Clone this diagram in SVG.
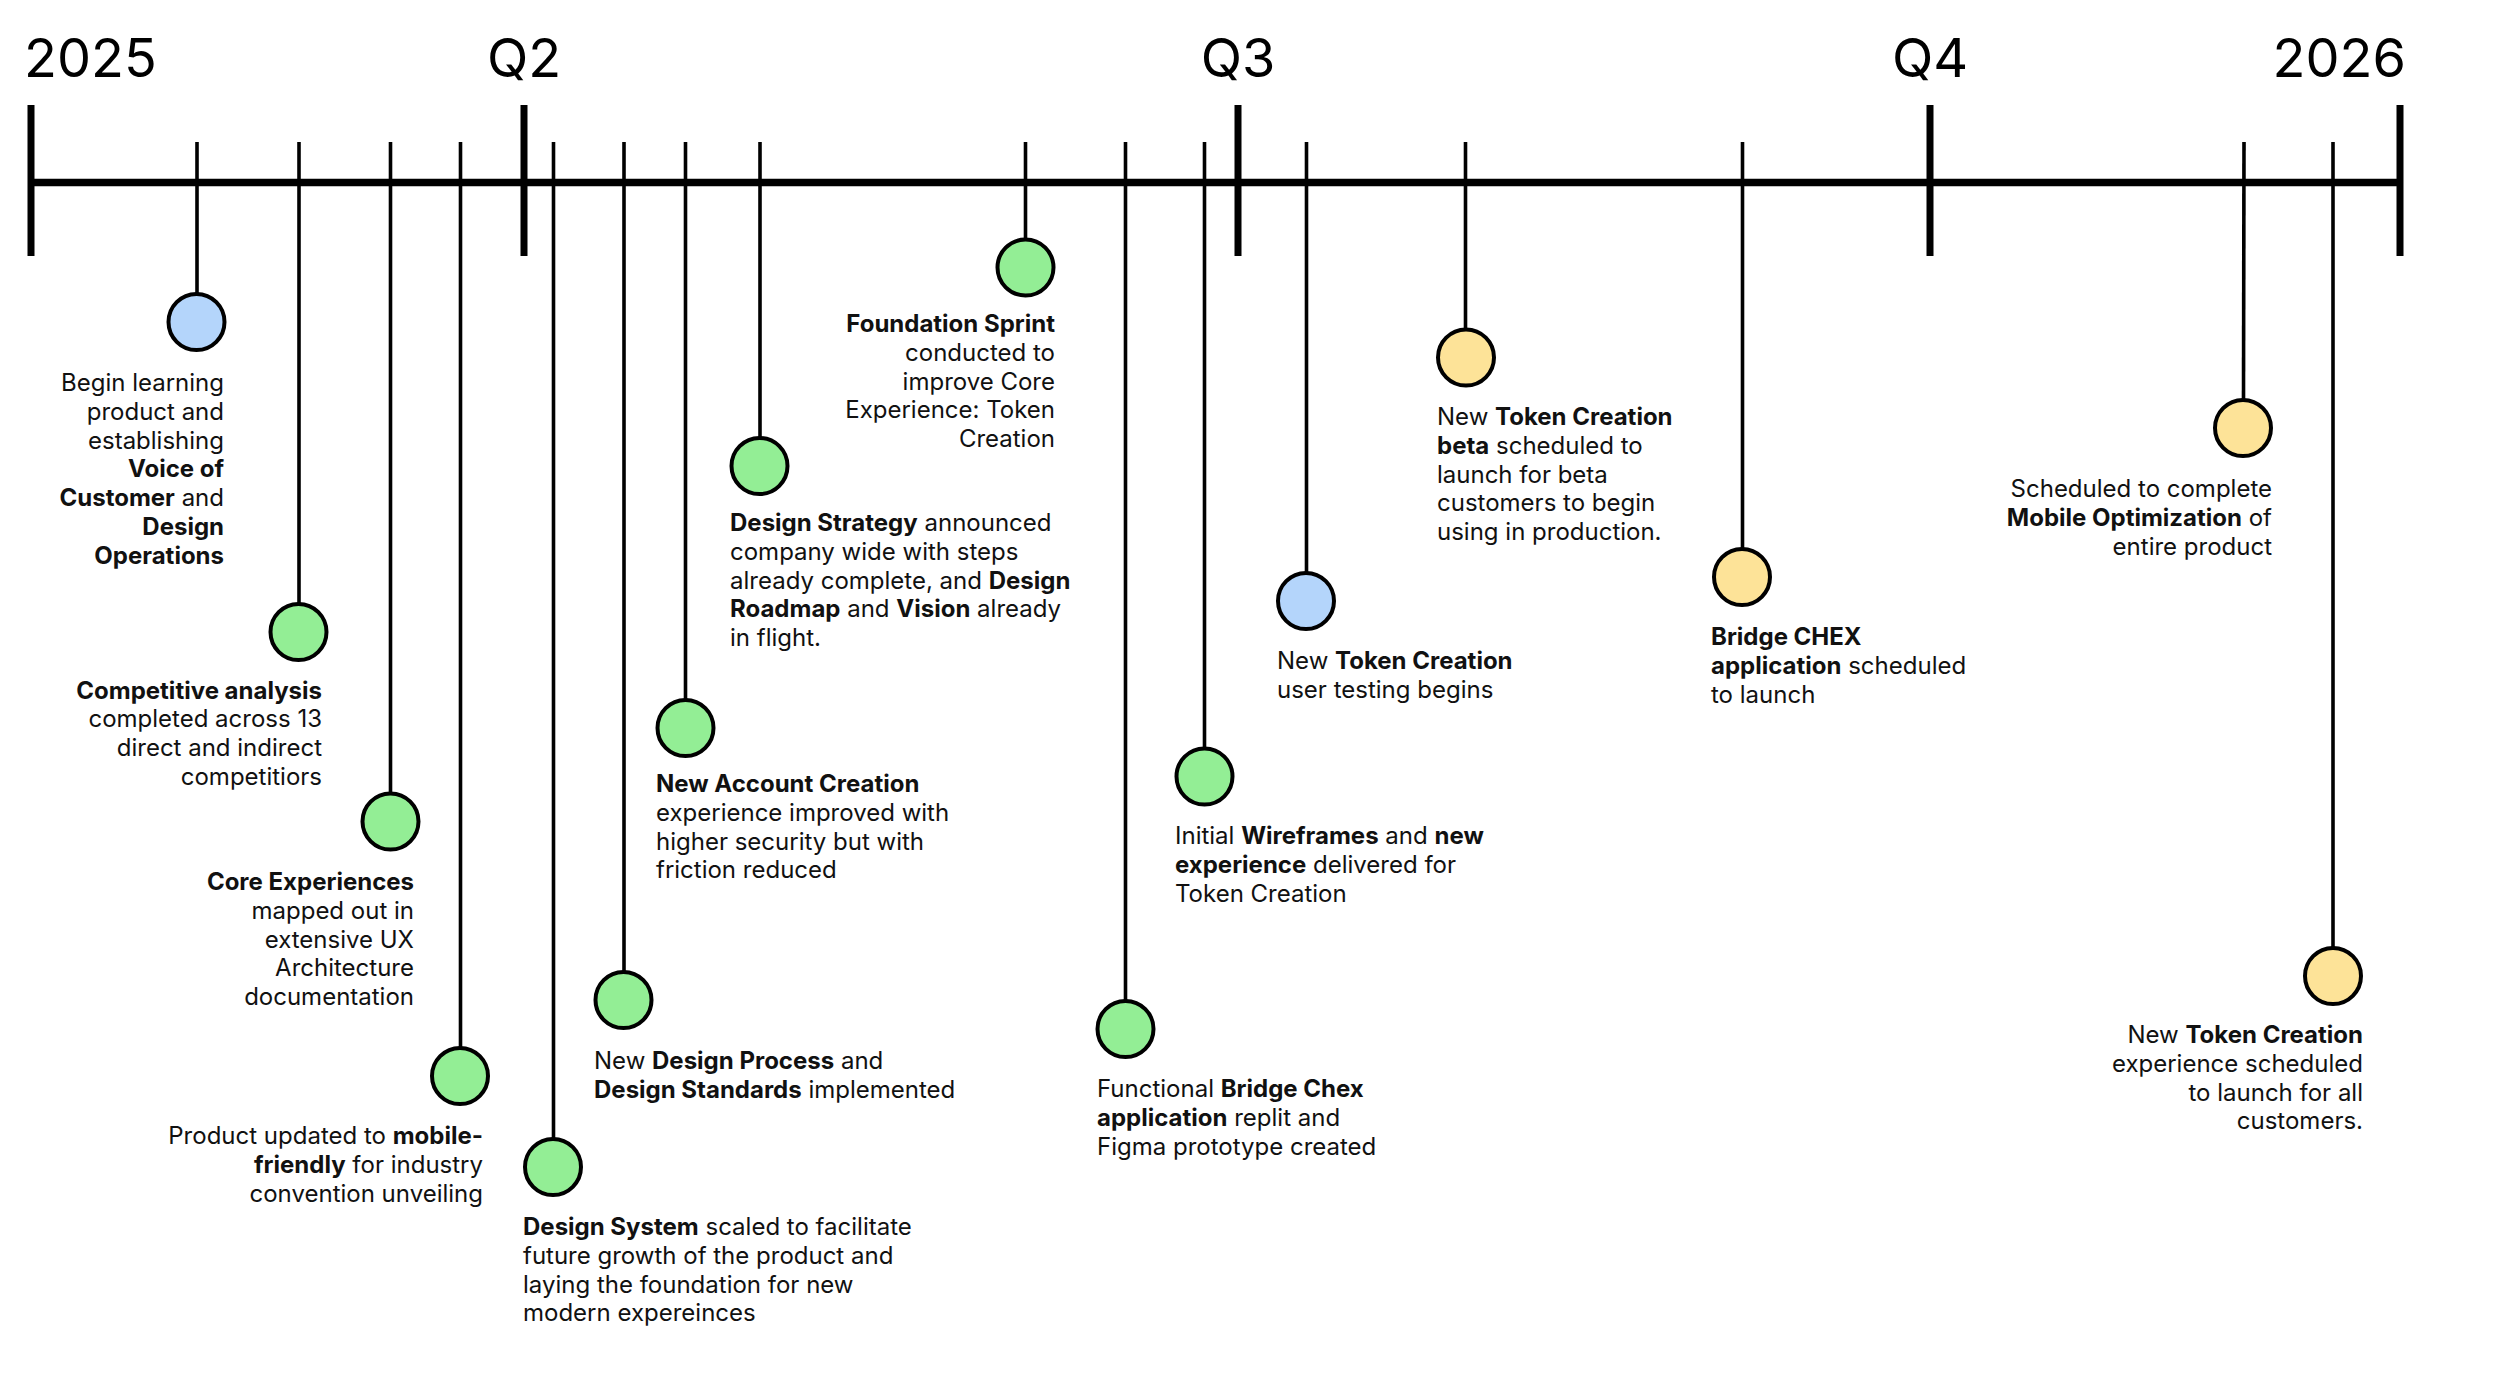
<svg xmlns="http://www.w3.org/2000/svg" width="2500" height="1379" viewBox="0 0 2500 1379">
<style>
.t{font-family:Inter,"Noto Sans","Liberation Sans",sans-serif;font-size:24px;fill:#111}
.b{font-weight:700}
.e{text-anchor:end}
.h{font-family:Inter,"Noto Sans","Liberation Sans",sans-serif;font-size:54px;fill:#000}
.axis{stroke:#000;stroke-width:7.5;fill:none}
.big{stroke:#000;stroke-width:7;fill:none}
.stem{stroke:#000;stroke-width:3.6;fill:none}
.dot{stroke:#000;stroke-width:4}
.green{fill:#93EE95}
.blue{fill:#B4D5FB}
.yellow{fill:#FDE398}
</style>
<rect width="2500" height="1379" fill="#fff"/>
<g id="labels">
<text class="h" x="24" y="77">2025</text>
<text class="h" x="524" y="77" text-anchor="middle">Q2</text>
<text class="h" x="1238" y="77" text-anchor="middle">Q3</text>
<text class="h" x="1930" y="77" text-anchor="middle">Q4</text>
<text class="h" x="2406" y="77" text-anchor="end">2026</text>
</g>
<g id="connectors">
<line class="axis" x1="28" y1="182.5" x2="2403" y2="182.5"/>
<line class="big" x1="31" y1="105" x2="31" y2="256"/>
<line class="big" x1="524" y1="105" x2="524" y2="256"/>
<line class="big" x1="1238" y1="105" x2="1238" y2="256"/>
<line class="big" x1="1930" y1="105" x2="1930" y2="256"/>
<line class="big" x1="2400" y1="105" x2="2400" y2="256"/>
<line class="stem" x1="197" y1="142" x2="197" y2="294"/>
<line class="stem" x1="299" y1="142" x2="299" y2="604"/>
<line class="stem" x1="390.5" y1="142" x2="390.5" y2="793"/>
<line class="stem" x1="460.5" y1="142" x2="460.5" y2="1048"/>
<line class="stem" x1="553.5" y1="142" x2="553.5" y2="1139"/>
<line class="stem" x1="624" y1="142" x2="624" y2="972"/>
<line class="stem" x1="685.5" y1="142" x2="685.5" y2="700"/>
<line class="stem" x1="760" y1="142" x2="760" y2="438"/>
<line class="stem" x1="1025.5" y1="142" x2="1025.5" y2="239"/>
<line class="stem" x1="1125.5" y1="142" x2="1125.5" y2="1001"/>
<line class="stem" x1="1204.5" y1="142" x2="1204.5" y2="748"/>
<line class="stem" x1="1306.5" y1="142" x2="1306.5" y2="573"/>
<line class="stem" x1="1465.5" y1="142" x2="1465.5" y2="329"/>
<line class="stem" x1="1742.5" y1="142" x2="1742.5" y2="549"/>
<line class="stem" x1="2244" y1="142" x2="2243.5" y2="400"/>
<line class="stem" x1="2333" y1="142" x2="2333" y2="948"/>
</g>
<g id="e1">
<circle class="dot blue" cx="196.5" cy="322" r="28"/>
<text class="t e" x="224" y="391">Begin learning</text>
<text class="t e" x="224" y="419.8">product and</text>
<text class="t e" x="224" y="448.6">establishing</text>
<text class="t e b" x="224" y="477.4">Voice of</text>
<text class="t e" x="224" y="506.2"><tspan class="b">Customer</tspan> and</text>
<text class="t e b" x="224" y="535">Design</text>
<text class="t e b" x="224" y="563.8">Operations</text>
</g>
<g id="e2">
<circle class="dot green" cx="298.5" cy="632" r="28"/>
<text class="t e b" x="322" y="698.5">Competitive analysis</text>
<text class="t e" x="322" y="727.3">completed across 13</text>
<text class="t e" x="322" y="756.1">direct and indirect</text>
<text class="t e" x="322" y="784.9">competitiors</text>
</g>
<g id="e3">
<circle class="dot green" cx="390.5" cy="821.5" r="28"/>
<text class="t e b" x="414" y="890">Core Experiences</text>
<text class="t e" x="414" y="918.8">mapped out in</text>
<text class="t e" x="414" y="947.6">extensive UX</text>
<text class="t e" x="414" y="976.4">Architecture</text>
<text class="t e" x="414" y="1005.2">documentation</text>
</g>
<g id="e4">
<circle class="dot green" cx="460" cy="1076" r="28"/>
<text class="t e" x="483" y="1144">Product updated to <tspan class="b">mobile-</tspan></text>
<text class="t e" x="483" y="1172.8"><tspan class="b">friendly</tspan> for industry</text>
<text class="t e" x="483" y="1201.6">convention unveiling</text>
</g>
<g id="e5">
<circle class="dot green" cx="553" cy="1167" r="28"/>
<text class="t" x="523" y="1235"><tspan class="b">Design System</tspan> scaled to facilitate</text>
<text class="t" x="523" y="1263.8">future growth of the product and</text>
<text class="t" x="523" y="1292.6">laying the foundation for new</text>
<text class="t" x="523" y="1321.4">modern expereinces</text>
</g>
<g id="e6">
<circle class="dot green" cx="623.5" cy="1000" r="28"/>
<text class="t" x="594" y="1069">New <tspan class="b">Design Process</tspan> and</text>
<text class="t" x="594" y="1097.8"><tspan class="b">Design Standards</tspan> implemented</text>
</g>
<g id="e7">
<circle class="dot green" cx="685.5" cy="728" r="28"/>
<text class="t b" x="656" y="792">New Account Creation</text>
<text class="t" x="656" y="820.8">experience improved with</text>
<text class="t" x="656" y="849.6">higher security but with</text>
<text class="t" x="656" y="878.4">friction reduced</text>
</g>
<g id="e8">
<circle class="dot green" cx="759.5" cy="466" r="28"/>
<text class="t" x="730" y="531"><tspan class="b">Design Strategy</tspan> announced</text>
<text class="t" x="730" y="559.8">company wide with steps</text>
<text class="t" x="730" y="588.6">already complete, and <tspan class="b">Design</tspan></text>
<text class="t" x="730" y="617.4"><tspan class="b">Roadmap</tspan> and <tspan class="b">Vision</tspan> already</text>
<text class="t" x="730" y="646.2">in flight.</text>
</g>
<g id="e9">
<circle class="dot green" cx="1025.5" cy="267.5" r="28"/>
<text class="t e b" x="1055" y="332">Foundation Sprint</text>
<text class="t e" x="1055" y="360.8">conducted to</text>
<text class="t e" x="1055" y="389.6">improve Core</text>
<text class="t e" x="1055" y="418.4">Experience: Token</text>
<text class="t e" x="1055" y="447.2">Creation</text>
</g>
<g id="e10">
<circle class="dot green" cx="1125.5" cy="1029" r="28"/>
<text class="t" x="1097" y="1097">Functional <tspan class="b">Bridge Chex</tspan></text>
<text class="t" x="1097" y="1125.8"><tspan class="b">application</tspan> replit and</text>
<text class="t" x="1097" y="1154.6">Figma prototype created</text>
</g>
<g id="e11">
<circle class="dot green" cx="1204.5" cy="776.5" r="28"/>
<text class="t" x="1175" y="844">Initial <tspan class="b">Wireframes</tspan> and <tspan class="b">new</tspan></text>
<text class="t" x="1175" y="872.8"><tspan class="b">experience</tspan> delivered for</text>
<text class="t" x="1175" y="901.6">Token Creation</text>
</g>
<g id="e12">
<circle class="dot blue" cx="1306" cy="601" r="28"/>
<text class="t" x="1277" y="669">New <tspan class="b">Token Creation</tspan></text>
<text class="t" x="1277" y="697.8">user testing begins</text>
</g>
<g id="e13">
<circle class="dot yellow" cx="1466" cy="357.5" r="28"/>
<text class="t" x="1437" y="425">New <tspan class="b">Token Creation</tspan></text>
<text class="t" x="1437" y="453.8"><tspan class="b">beta</tspan> scheduled to</text>
<text class="t" x="1437" y="482.6">launch for beta</text>
<text class="t" x="1437" y="511.4">customers to begin</text>
<text class="t" x="1437" y="540.2">using in production.</text>
</g>
<g id="e14">
<circle class="dot yellow" cx="1742" cy="577" r="28"/>
<text class="t b" x="1711" y="645">Bridge CHEX</text>
<text class="t" x="1711" y="673.8"><tspan class="b">application</tspan> scheduled</text>
<text class="t" x="1711" y="702.6">to launch</text>
</g>
<g id="e15">
<circle class="dot yellow" cx="2243" cy="428" r="28"/>
<text class="t e" x="2272" y="497">Scheduled to complete</text>
<text class="t e" x="2272" y="525.8"><tspan class="b">Mobile Optimization</tspan> of</text>
<text class="t e" x="2272" y="554.6">entire product</text>
</g>
<g id="e16">
<circle class="dot yellow" cx="2333" cy="976" r="28"/>
<text class="t e" x="2363" y="1043">New <tspan class="b">Token Creation</tspan></text>
<text class="t e" x="2363" y="1071.8">experience scheduled</text>
<text class="t e" x="2363" y="1100.6">to launch for all</text>
<text class="t e" x="2363" y="1129.4">customers.</text>
</g>
</svg>
